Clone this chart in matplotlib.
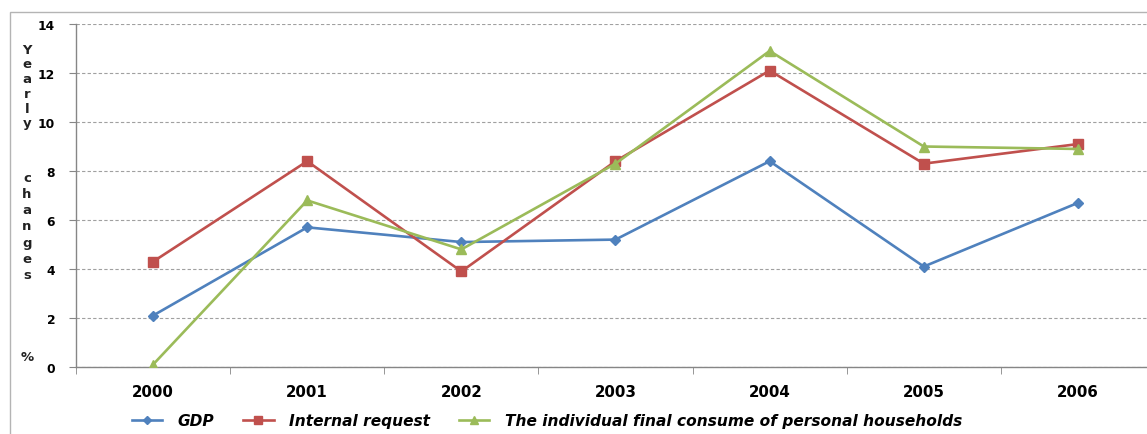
import matplotlib
matplotlib.use("Agg")
import matplotlib.pyplot as plt
from matplotlib.patches import Rectangle
from matplotlib.ticker import FixedLocator

years = ["2000", "2001", "2002", "2003", "2004", "2005", "2006"]
gdp = [2.1, 5.7, 5.1, 5.2, 8.4, 4.1, 6.7]
internal_request = [4.3, 8.4, 3.9, 8.4, 12.1, 8.3, 9.1]
household_consume = [0.1, 6.8, 4.8, 8.3, 12.9, 9.0, 8.9]
y_ticks = [0, 2, 4, 6, 8, 10, 12, 14]
series_names = ["GDP", "Internal request", "The individual final consume of personal households"]

W, H = 1147, 435
fig = plt.figure(figsize=(W / 100, H / 100), dpi=100)
fig.patch.set_facecolor("white")

# outer chart frame
fig.patches.append(Rectangle((10 / W, -0.1), 1.2, 1 - 13 / H + 0.1, transform=fig.transFigure,
                             fill=False, edgecolor="#b4b4b4", linewidth=1.0, zorder=0))

left, right, top, bottom = 76, 1155, 25, 368
ax = fig.add_axes([left / W, 1 - bottom / H, (right - left) / W, (bottom - top) / H])

x = list(range(len(years)))
c_blue, c_red, c_green = "#4F81BD", "#C0504D", "#9BBB59"
l1, = ax.plot(x, gdp, color=c_blue, lw=1.9, marker="D", ms=5.5, label=series_names[0], zorder=3)
l2, = ax.plot(x, internal_request, color=c_red, lw=1.9, marker="s", ms=7, label=series_names[1], zorder=3)
l3, = ax.plot(x, household_consume, color=c_green, lw=1.9, marker="^", ms=7, label=series_names[2], zorder=4)

ax.set_xlim(-0.5, len(years) - 0.5)
ax.set_ylim(0, 14)
ax.set_yticks(y_ticks)
ax.set_yticklabels([str(v) for v in y_ticks], fontsize=8.8, fontweight="bold")
ax.set_xticks(x)
ax.set_xticklabels(years, fontsize=10.8, fontweight="bold")
ax.xaxis.set_minor_locator(FixedLocator([i + 0.5 for i in range(-1, len(years))]))
ax.tick_params(axis="x", which="major", length=0, pad=12)
ax.tick_params(axis="x", which="minor", length=5, direction="out", color="#868686")
ax.tick_params(axis="y", length=5, direction="out", color="#868686", pad=10)

ax.grid(axis="y", linestyle=(0, (3, 2)), color="#a0a0a0", linewidth=0.8)
ax.set_axisbelow(True)
for s in ["top", "right"]:
    ax.spines[s].set_visible(False)
for s in ["left", "bottom"]:
    ax.spines[s].set_color("#868686")
    ax.spines[s].set_linewidth(1.0)

# stacked vertical axis title
ylabel_parts = [("Yearly", 50, 14.8), ("changes", 178, 16.3), ("%", 358, 0)]
for word, y0, step in ylabel_parts:
    for i, ch in enumerate(word):
        fig.text(27 / W, 1 - (y0 + i * step) / H, ch, ha="center", va="center",
                 fontsize=9.5, fontweight="bold", color="#222222")

fig.legend(handles=[l1, l2, l3], loc="center", bbox_to_anchor=(547 / W, 1 - 422 / H),
           ncol=3, frameon=False, prop={"size": 11.1, "weight": "bold", "style": "italic"},
           handlelength=1.95, columnspacing=1.9, handletextpad=1.0, markerscale=0.8)

fig.savefig("out.png", dpi=100)
